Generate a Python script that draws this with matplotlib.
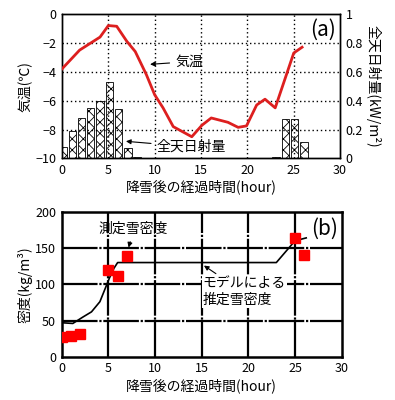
import matplotlib
matplotlib.use("Agg")
import matplotlib.pyplot as plt

plt.rcParams["font.family"] = ["Noto Sans CJK JP", "DejaVu Sans"]
plt.rcParams["hatch.linewidth"] = 0.6

# (a) air temperature (deg C) and global radiation (kW/m2)
temp_hour = [0, 1.9, 4.1, 5.0, 5.9, 7.0, 7.9, 9.1, 10.0, 10.9, 12.0, 14.0,
             15.1, 16.1, 17.9, 19.0, 19.9, 21.0, 21.9, 23.0, 24.0, 25.0, 25.9]
temp = [-3.8, -2.5, -1.6, -0.8, -0.85, -1.9, -2.6, -4.2, -5.6, -6.5, -7.8, -8.5,
        -7.7, -7.2, -7.5, -7.85, -7.75, -6.3, -5.9, -6.5, -4.6, -2.7, -2.3]

rad_hour = [0, 1, 2, 3, 4, 5, 6, 7, 8, 23, 24, 25, 26]
radiation = [0.08, 0.19, 0.28, 0.35, 0.40, 0.53, 0.34, 0.07, 0.01,
             0.01, 0.27, 0.27, 0.115]

# (b) snow density (kg/m3)
meas_hour = [0, 1, 2, 5, 6, 7, 25, 26]
meas_density = [27, 29, 32, 120, 111, 139, 164, 141]

model_hour = [0, 1.2, 2.3, 3.2, 4.1, 4.6, 5.1, 5.6, 6.0, 23.0, 25.0, 26.2]
model_density = [47, 46, 55, 62, 76, 92, 108, 122, 130, 130, 160, 164]

fig = plt.figure(figsize=(3.95, 4.0), dpi=100)

# ---- panel (a)
ax1 = fig.add_axes([0.157, 0.604, 0.704, 0.361])
ax2 = ax1.twinx()
ax2.bar([h + 0.1 for h in rad_hour], radiation, width=0.8, color="white",
        edgecolor="black", hatch="xxx", linewidth=0.6, zorder=2)
ax1.set_zorder(ax2.get_zorder() + 1)
ax1.patch.set_visible(False)
ax1.plot(temp_hour, temp, color="#dd1f1f", lw=2, zorder=3)

ax1.set_xlim(0, 30)
ax1.set_ylim(-10, 0)
ax2.set_ylim(0, 1)
ax1.set_xticks(range(0, 31, 5))
ax1.set_yticks(range(-10, 1, 2))
ax2.set_yticks([0, 0.2, 0.4, 0.6, 0.8, 1])
ax2.set_yticklabels(["0", "0.2", "0.4", "0.6", "0.8", "1"])
dots = dict(color="black", lw=1.0, ls=(0, (1, 2)), zorder=1)
for y in [-2, -4, -6, -8]:
    ax1.axhline(y, **dots)
for x in [5, 10, 15, 20, 25]:
    ax1.axvline(x, **dots)
for ax in (ax1, ax2):
    ax.tick_params(length=0, labelsize=9, pad=4)
    for s in ax.spines.values():
        s.set_linewidth(1.0)
ax1.set_ylabel("気温(℃)", fontsize=10, labelpad=2)
ax2.set_ylabel("全天日射量(kW/m²)", fontsize=10, rotation=270, labelpad=13)
ax1.set_xlabel("降雪後の経過時間(hour)", fontsize=10, labelpad=2)

arrow = dict(arrowstyle="-|>", color="black", lw=0.8, mutation_scale=7)
ax1.annotate("気温", xy=(9.2, -3.5), xytext=(12.2, -3.3), fontsize=10,
             va="center", arrowprops=arrow, zorder=5)
ax1.annotate("全天日射量", xy=(6.6, -8.8), xytext=(10.2, -9.2), fontsize=10,
             va="center", arrowprops=arrow, zorder=5)
ax1.text(28.2, -1.1, "(a)", fontsize=15, ha="center", va="center")

# ---- panel (b)
ax3 = fig.add_axes([0.156, 0.108, 0.709, 0.3625])
grid = dict(color="black", lw=1.6, ls=(0, (16, 0.8, 1, 0.8)), zorder=1)
for y in [50, 100, 150]:
    ax3.axhline(y, **grid)
for x in [5, 10, 15, 20, 25]:
    ax3.axvline(x, **grid)
ax3.plot(model_hour, model_density, color="black", lw=1.2, zorder=3)
ax3.plot(meas_hour, meas_density, ls="none", marker="s", ms=7,
         color="#ff0000", mec="#ff0000", zorder=4)
ax3.set_xlim(0, 30)
ax3.set_ylim(0, 200)
ax3.set_xticks(range(0, 31, 5))
ax3.set_yticks(range(0, 201, 50))
ax3.tick_params(length=0, labelsize=9, pad=4)
for s in ax3.spines.values():
    s.set_linewidth(1.8)
ax3.set_ylabel("密度(kg/m³)", fontsize=10, labelpad=2)
ax3.set_xlabel("降雪後の経過時間(hour)", fontsize=10, labelpad=2)

ax3.annotate("測定雪密度", xy=(7.1, 147), xytext=(7.7, 176), fontsize=10,
             ha="center", va="center", arrowprops=arrow, zorder=5)
ax3.annotate("モデルによる\n推定雪密度", xy=(15.0, 128), xytext=(15.1, 90),
             fontsize=10, ha="left", va="center", linespacing=1.3,
             arrowprops=dict(arrow, relpos=(0.2, 1.0)), zorder=5,
             bbox=dict(fc="white", ec="none", pad=0.5))
ax3.text(28.2, 176, "(b)", fontsize=15, ha="center", va="center")

fig.savefig("out.png", dpi=100)
